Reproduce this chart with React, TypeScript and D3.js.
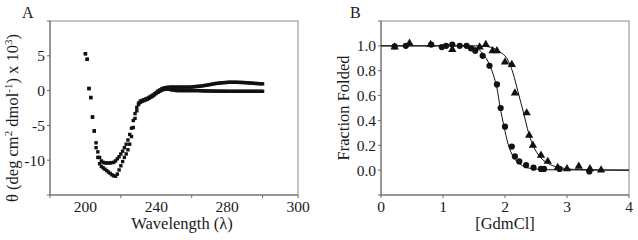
import React from "react";
import * as d3 from "d3";

// ---------- Panel A data (CD spectra) ----------
const wavelengths: number[] = d3.range(200, 301);
const spectrumUpper: number[] = [
  5.3, 4.5, 0.3, -1.0, -3.8, -5.8, -7.5, -8.8, -9.6, -10.1,
  -10.3, -10.4, -10.4, -10.4, -10.4, -10.35, -10.3, -10.1, -9.8, -9.5,
  -9.1, -8.7, -8.2, -7.7, -7.1, -6.3, -5.4, -4.3, -3.3, -2.4,
  -1.8, -1.5, -1.4, -1.3, -1.2, -1.1, -0.95, -0.8, -0.65, -0.45,
  -0.25, -0.05, 0.1, 0.25, 0.35, 0.42, 0.46, 0.48, 0.5, 0.5,
  0.5, 0.5, 0.5, 0.5, 0.5, 0.5, 0.5, 0.5, 0.5, 0.5,
  0.52, 0.55, 0.58, 0.6, 0.62, 0.65, 0.68, 0.72, 0.76, 0.8,
  0.85, 0.9, 0.95, 1.0, 1.03, 1.06, 1.09, 1.12, 1.14, 1.16,
  1.18, 1.2, 1.2, 1.2, 1.2, 1.2, 1.19, 1.18, 1.17, 1.16,
  1.15, 1.13, 1.11, 1.09, 1.07, 1.05, 1.03, 1.01, 1.0, 0.98,
  0.97,
];
const spectrumLower: number[] = [
  5.3, 4.5, 0.3, -1.0, -3.8, -5.8, -8.2, -9.6, -10.5, -10.9,
  -11.1, -11.3, -11.5, -11.7, -11.9, -12.1, -12.25, -12.3, -12.0, -11.4,
  -10.8, -10.2, -9.6, -9.1, -8.5, -7.7, -6.6, -5.3, -4.0, -2.9,
  -2.0, -1.7, -1.55, -1.45, -1.35, -1.25, -1.1, -0.95, -0.8, -0.6,
  -0.4, -0.25, -0.1, 0.05, 0.15, 0.2, 0.22, 0.2, 0.15, 0.1,
  0.05, 0.02, 0.0, 0.0, 0.0, 0.0, 0.0, 0.0, 0.0, 0.0,
  0.0, 0.0, 0.0, 0.0, 0.0, -0.02, -0.03, -0.04, -0.05, -0.05,
  -0.06, -0.06, -0.07, -0.07, -0.08, -0.08, -0.08, -0.09, -0.09, -0.09,
  -0.1, -0.1, -0.1, -0.1, -0.1, -0.1, -0.1, -0.1, -0.1, -0.1,
  -0.1, -0.1, -0.1, -0.1, -0.1, -0.1, -0.1, -0.1, -0.1, -0.1,
  -0.1,
];
const aTickMarks: number[] = [180, 220, 260, 300, 320];
const aTickLabelValues: number[] = [200, 240, 280, 320];
const aTickLabelTexts: string[] = ["200", "240", "280", "300"];
const aYTicks: number[] = [-15, -10, -5, 0, 5, 10];
const aYLabels: number[] = [-10, -5, 0, 5];

// ---------- Panel B data (denaturation) ----------
const circleX: number[] = [0.22, 0.4, 0.81, 0.98, 1.05, 1.15, 1.27, 1.38, 1.45, 1.52, 1.64, 1.75, 1.87, 1.93, 2.0, 2.11, 2.16, 2.23, 2.34, 2.46, 2.58, 2.63, 2.88, 3.36];
const circleY: number[] = [0.996, 1.0, 1.01, 0.99, 1.0, 1.01, 1.0, 1.0, 0.98, 0.96, 0.92, 0.84, 0.69, 0.5, 0.35, 0.19, 0.11, 0.07, 0.04, 0.02, 0.01, 0.01, 0.01, -0.01];
const triX: number[] = [0.22, 0.46, 0.8, 1.15, 1.59, 1.69, 1.8, 1.87, 2.0, 2.11, 2.16, 2.35, 2.39, 2.45, 2.58, 2.69, 2.85, 3.0, 3.19, 3.37, 3.55];
const triY: number[] = [0.99, 1.02, 1.01, 0.97, 0.99, 1.01, 0.96, 0.96, 0.87, 0.85, 0.62, 0.46, 0.28, 0.2, 0.12, 0.07, 0.02, 0.01, 0.03, 0.01, 0.0];
const circleFitX: number[] = [0, 1.3, 1.5, 1.62, 1.73, 1.81, 1.87, 1.92, 1.98, 2.05, 2.13, 2.24, 2.4, 2.7, 4];
const circleFitY: number[] = [1.0, 1.0, 0.99, 0.95, 0.87, 0.77, 0.66, 0.51, 0.36, 0.21, 0.11, 0.05, 0.015, 0.003, 0];
const triFitX: number[] = [0, 1.6, 1.76, 1.92, 2.03, 2.13, 2.21, 2.3, 2.38, 2.46, 2.56, 2.73, 2.89, 3.2, 4];
const triFitY: number[] = [1.0, 1.0, 0.99, 0.95, 0.9, 0.78, 0.63, 0.46, 0.3, 0.19, 0.11, 0.045, 0.02, 0.004, 0];
const bXTicks: number[] = [0, 1, 2, 3, 4];
const bYTicks: number[] = [-0.2, 0, 0.2, 0.4, 0.6, 0.8, 1.0, 1.2];
const bYLabels: number[] = [0, 0.2, 0.4, 0.6, 0.8, 1.0];

const FONT = "'Liberation Serif', 'Times New Roman', serif";
const AXIS = "#6b6b6b";
const TEXT = "#1a1a1a";
const TICK_FS = 15.5;
const TITLE_FS = 16.5;

export default function App() {
  // Panel A geometry
  const aL = 50, aR = 298, aT = 21, aB = 195;
  const ax = d3.scaleLinear().domain([180, 320]).range([aL, aR]);
  const ay = d3.scaleLinear().domain([-15, 10]).range([aB, aT]);

  // Panel B geometry
  const bL = 381, bR = 629, bT = 21, bB = 195;
  const bx = d3.scaleLinear().domain([0, 4]).range([bL, bR]);
  const by = d3.scaleLinear().domain([-0.2, 1.2]).range([bB, bT]);

  const fitLine = d3
    .line<[number, number]>()
    .x((d) => bx(d[0]))
    .y((d) => by(d[1]))
    .curve(d3.curveMonotoneX);

  const triPath = d3.symbol().type(d3.symbolTriangle).size(30)() as string;

  const sq = 3.4;

  return (
    <svg width={638} height={240} style={{ position: "absolute", left: 0, top: 0, background: "#fff" }}>
      <rect x={0} y={0} width={638} height={240} fill="#fff" />
      {/* ---------- Panel A ---------- */}
      <text x={22} y={18} fontFamily={FONT} fontSize={16} fill={TEXT}>A</text>
      <rect x={aL} y={aT} width={aR - aL} height={aB - aT} fill="none" stroke="#8a8a8a" strokeWidth={1} />
      <line x1={aL} x2={aR} y1={aB} y2={aB} stroke={AXIS} />
      <line x1={aL} x2={aL} y1={aT} y2={aB} stroke={AXIS} />
      {aTickMarks.map((t) => (
        <line key={"axt" + t} x1={ax(t)} x2={ax(t)} y1={aB} y2={aB + 3} stroke={AXIS} />
      ))}
      {aTickLabelValues.map((t, i) => (
        <text key={"axl" + t} x={ax(t)} y={212} textAnchor="middle" fontFamily={FONT} fontSize={TICK_FS} fill={TEXT}>
          {aTickLabelTexts[i]}
        </text>
      ))}
      {aYTicks.map((t) => (
        <line key={"ayt" + t} x1={aL - 3} x2={aL} y1={ay(t)} y2={ay(t)} stroke={AXIS} />
      ))}
      {aYLabels.map((t) => (
        <text key={"ayl" + t} x={45} y={ay(t)} dy="0.35em" textAnchor="end" fontFamily={FONT} fontSize={TICK_FS} fill={TEXT}>
          {String(t)}
        </text>
      ))}
      <text x={(aL + aR) / 2 + 8} y={229} textAnchor="middle" fontFamily={FONT} fontSize={TITLE_FS} fill={TEXT}>
        Wavelength (λ)
      </text>
      <text
        transform={`translate(18, 118) rotate(-90)`}
        textAnchor="middle"
        fontFamily={FONT}
        fontSize={TITLE_FS}
        fill={TEXT}
      >
        θ (deg cm<tspan fontSize={11} dy={-6}>2</tspan>
        <tspan dy={6}> dmol</tspan>
        <tspan fontSize={11} dy={-6}>-1</tspan>
        <tspan dy={6}>) x 10</tspan>
        <tspan fontSize={11} dy={-6}>3</tspan>
        <tspan dy={6}>)</tspan>
      </text>
      <g fill="#111">
        {wavelengths.map((w, i) => (
          <rect key={"u" + w} x={ax(w) - sq / 2} y={ay(spectrumUpper[i]) - sq / 2} width={sq} height={sq} />
        ))}
        {wavelengths.map((w, i) => (
          <rect key={"l" + w} x={ax(w) - sq / 2} y={ay(spectrumLower[i]) - sq / 2} width={sq} height={sq} />
        ))}
      </g>

      {/* ---------- Panel B ---------- */}
      <text x={350} y={18} fontFamily={FONT} fontSize={16} fill={TEXT}>B</text>
      <rect x={bL} y={bT} width={bR - bL} height={bB - bT} fill="none" stroke="#8a8a8a" strokeWidth={1} />
      <line x1={bL} x2={bR} y1={bB} y2={bB} stroke={AXIS} />
      <line x1={bL} x2={bL} y1={bT} y2={bB} stroke={AXIS} />
      {bXTicks.map((t) => (
        <line key={"bxt" + t} x1={bx(t)} x2={bx(t)} y1={bB} y2={bB + 3} stroke={AXIS} />
      ))}
      {bXTicks.map((t) => (
        <text key={"bxl" + t} x={bx(t)} y={212} textAnchor="middle" fontFamily={FONT} fontSize={TICK_FS} fill={TEXT}>
          {String(t)}
        </text>
      ))}
      {bYTicks.map((t) => (
        <line key={"byt" + t} x1={bL - 3} x2={bL} y1={by(t)} y2={by(t)} stroke={AXIS} />
      ))}
      {bYLabels.map((t) => (
        <text key={"byl" + t} x={376} y={by(t)} dy="0.35em" textAnchor="end" fontFamily={FONT} fontSize={TICK_FS} fill={TEXT}>
          {d3.format(".1f")(t)}
        </text>
      ))}
      <text x={(bL + bR) / 2} y={229} textAnchor="middle" fontFamily={FONT} fontSize={TITLE_FS} fill={TEXT}>
        [GdmCl]
      </text>
      <text transform={`translate(349, 108) rotate(-90)`} textAnchor="middle" fontFamily={FONT} fontSize={TITLE_FS} fill={TEXT}>
        Fraction Folded
      </text>
      <path d={fitLine(circleFitX.map((x, i) => [x, circleFitY[i]]) as [number, number][]) || ""} fill="none" stroke="#111" strokeWidth={1} />
      <path d={fitLine(triFitX.map((x, i) => [x, triFitY[i]]) as [number, number][]) || ""} fill="none" stroke="#111" strokeWidth={1} />
      <g fill="#111">
        {circleX.map((x, i) => (
          <circle key={"c" + i} cx={bx(x)} cy={by(circleY[i])} r={3.1} />
        ))}
        {triX.map((x, i) => (
          <path key={"t" + i} d={triPath} transform={`translate(${bx(x)}, ${by(triY[i])})`} />
        ))}
      </g>
    </svg>
  );
}
